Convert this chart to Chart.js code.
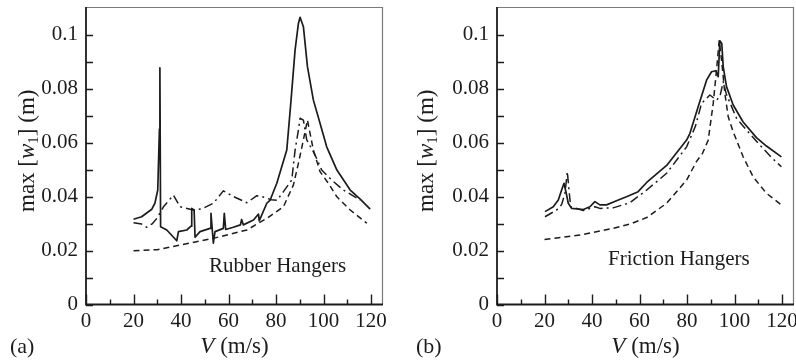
<!DOCTYPE html>
<html>
<head>
<meta charset="utf-8">
<script src="https://cdn.jsdelivr.net/npm/chart.js@4/dist/chart.umd.min.js"></script>
<style>
  html, body { margin: 0; padding: 0; background: #ffffff; }
  #wrap { position: relative; width: 796px; height: 362px; overflow: hidden; }
  #wrap canvas { position: absolute; top: 0; }
</style>
</head>
<body>
<div id="wrap">
  <canvas id="panelA" width="398" height="362" style="left:0px"></canvas>
  <canvas id="panelB" width="398" height="362" style="left:398px"></canvas>
</div>
<script>
// Axis tick values shown with labels
const xTickLabels = [0, 20, 40, 60, 80, 100, 120];
const yTickLabels = [0, 0.02, 0.04, 0.06, 0.08, 0.1];

// (a) Rubber hangers: max response vs train speed V (m/s)
const rubberSolidV = [20, 23.4, 27.7, 29, 30.2, 30.9, 31.1, 31.4, 34, 38.2, 38.9, 42.4, 44.2, 44.5, 45.5, 45.9, 48, 52.2, 52.6, 53.6, 54.3, 57.8, 58.2, 58.8, 62, 65, 65.5, 66.2, 70.5, 72.6, 72.9, 76.1, 77.5, 80.3, 84.5, 86.3, 88, 89.4, 90.1, 91.5, 93.2, 95.7, 98.5, 101.3, 105.6, 111.2, 115.4, 119.6];
const rubberSolidW = [0.0316, 0.0325, 0.0353, 0.0375, 0.0424, 0.065, 0.0877, 0.0288, 0.0276, 0.0236, 0.027, 0.0276, 0.029, 0.0356, 0.035, 0.0249, 0.027, 0.0282, 0.0338, 0.0227, 0.027, 0.0282, 0.0338, 0.0278, 0.0286, 0.0295, 0.0315, 0.0295, 0.0313, 0.0335, 0.031, 0.0375, 0.0387, 0.0449, 0.0572, 0.0757, 0.0943, 0.1041, 0.1064, 0.1029, 0.0881, 0.0757, 0.0671, 0.0584, 0.0498, 0.0424, 0.039, 0.0353];

const rubberDashDotV = [20, 23.4, 25.5, 28, 29.8, 32.6, 36.8, 39.6, 45.2, 49, 53.6, 55, 57.8, 62, 67.7, 71.9, 74, 78, 80.4, 83.1, 86.6, 88, 89.4, 90.1, 91.5, 92.9, 96.4, 99.2, 103.4, 108.3, 115.4];
const rubberDashDotW = [0.0303, 0.0298, 0.0286, 0.030, 0.0319, 0.0362, 0.0405, 0.0362, 0.035, 0.0355, 0.0375, 0.039, 0.0421, 0.040, 0.0377, 0.0403, 0.040, 0.0388, 0.0386, 0.0418, 0.0461, 0.0572, 0.0646, 0.069, 0.0683, 0.061, 0.0554, 0.0498, 0.0461, 0.0424, 0.0387];

const rubberDashedV = [20, 30, 39.6, 53.6, 67.7, 76.1, 83.1, 87.3, 89.4, 91.5, 93.2, 94.3, 95.7, 98.5, 102, 105.6, 111.2, 118.2];
const rubberDashedW = [0.0199, 0.0203, 0.022, 0.0245, 0.0276, 0.0319, 0.0362, 0.0443, 0.0523, 0.061, 0.0683, 0.0634, 0.0572, 0.0492, 0.0449, 0.0399, 0.035, 0.0301];

// (b) Friction hangers
const frictionSolidV = [20.2, 23.7, 25.8, 27.2, 28.2, 29, 30, 31.4, 36.3, 39.1, 41.2, 43.3, 46.1, 50.3, 54.5, 59.4, 63, 71.4, 79.8, 81.2, 84.7, 88.2, 90.3, 92.1, 93.1, 93.8, 94.6, 95.2, 96.6, 99.4, 103.6, 109.2, 113.4, 119.7];
const frictionSolidW = [0.0344, 0.0362, 0.0387, 0.0424, 0.0449, 0.0418, 0.0375, 0.0356, 0.0352, 0.0362, 0.0381, 0.0369, 0.0369, 0.0384, 0.0399, 0.0418, 0.0452, 0.0515, 0.0609, 0.0634, 0.0733, 0.0831, 0.0862, 0.0866, 0.0844, 0.0977, 0.0967, 0.0881, 0.0807, 0.0739, 0.0676, 0.0618, 0.0587, 0.0547];

const frictionDashDotV = [20.2, 25.1, 27.2, 28.6, 29.6, 30.3, 31, 36.3, 41.2, 43.3, 48.9, 55.9, 63, 71.4, 79.8, 83.5, 86.1, 89.6, 92.4, 93.8, 95.2, 96.5, 100.8, 105, 110.6, 115.5, 119.7];
const frictionDashDotW = [0.0325, 0.035, 0.037, 0.0412, 0.0492, 0.0424, 0.0362, 0.0348, 0.0362, 0.0356, 0.0358, 0.0377, 0.0424, 0.0486, 0.0584, 0.066, 0.0745, 0.0776, 0.0757, 0.077, 0.0825, 0.078, 0.069, 0.0646, 0.0591, 0.0545, 0.051];

const frictionDashedV = [20, 34.9, 48.9, 56, 63, 71.4, 79.8, 84, 86.5, 88.9, 91, 92.4, 93.5, 94.5, 95.9, 97.3, 99.4, 103.6, 107.8, 113.4, 119.7];
const frictionDashedW = [0.0241, 0.0257, 0.0282, 0.0298, 0.0322, 0.0375, 0.0461, 0.053, 0.056, 0.0609, 0.0745, 0.0869, 0.0977, 0.0906, 0.0782, 0.0696, 0.064, 0.0547, 0.0473, 0.0412, 0.0369];

const SERIF = "'Liberation Serif', 'Times New Roman', 'DejaVu Serif', serif";
const INK = '#1c1c1c';

Chart.defaults.font.family = SERIF;
Chart.defaults.color = INK;

function toPoints(v, w) {
  return v.map((x, i) => ({ x: x, y: w[i] }));
}

// tick positions every 10 m/s and every 0.01 m (labels only on the listed values)
function stepTicks(from, to, step) {
  const out = [];
  const n = Math.round((to - from) / step);
  for (let i = 0; i <= n; i++) out.push({ value: +(from + i * step).toFixed(6) });
  return out;
}

// Frame, inward ticks, axis titles, panel tag and annotation
const decorations = {
  id: 'decorations',
  afterDraw(chart, args, o) {
    const { ctx, chartArea: a, scales: { x, y } } = chart;
    ctx.save();
    // light top and right frame
    ctx.strokeStyle = '#7a7a7a';
    ctx.lineWidth = 1.2;
    ctx.beginPath();
    ctx.moveTo(a.left, a.top + 0.5);
    ctx.lineTo(a.right - 0.5, a.top + 0.5);
    ctx.lineTo(a.right - 0.5, a.bottom);
    ctx.stroke();
    // dark left and bottom axes
    ctx.strokeStyle = INK;
    ctx.lineWidth = 1.8;
    ctx.beginPath();
    ctx.moveTo(a.left, a.top);
    ctx.lineTo(a.left, a.bottom);
    ctx.lineTo(a.right, a.bottom);
    ctx.stroke();
    // inward ticks
    ctx.lineWidth = 1.4;
    ctx.beginPath();
    x.ticks.forEach(t => {
      const px = Math.round(x.getPixelForValue(t.value)) + 0.5;
      const len = (Math.round(t.value) % 20 === 0) ? 10 : 5;
      ctx.moveTo(px, a.bottom);
      ctx.lineTo(px, a.bottom - len);
    });
    y.ticks.forEach(t => {
      const py = Math.round(y.getPixelForValue(t.value)) + 0.5;
      ctx.moveTo(a.left, py);
      ctx.lineTo(a.left + 7, py);
    });
    ctx.stroke();

    ctx.fillStyle = INK;
    ctx.textBaseline = 'middle';
    const size = 23;
    const normal = size + 'px ' + SERIF;
    const italic = 'italic ' + size + 'px ' + SERIF;
    const sub = '15px ' + SERIF;

    // y-axis title: max [w1] (m)
    const segs = [
      { t: 'max [', f: normal, dy: 0 },
      { t: 'w', f: italic, dy: 0 },
      { t: '1', f: sub, dy: 6 },
      { t: '] (m)', f: normal, dy: 0 }
    ];
    let total = 0;
    segs.forEach(s => { ctx.font = s.f; s.w = ctx.measureText(s.t).width; total += s.w; });
    ctx.save();
    ctx.translate(o.yTitleX, (a.top + a.bottom) / 2 - 5);
    ctx.rotate(-Math.PI / 2);
    ctx.textAlign = 'left';
    let cx = -total / 2;
    segs.forEach(s => { ctx.font = s.f; ctx.fillText(s.t, cx, s.dy); cx += s.w; });
    ctx.restore();

    // x-axis title: V (m/s)
    const xs = [ { t: 'V', f: italic }, { t: ' (m/s)', f: normal } ];
    total = 0;
    xs.forEach(s => { ctx.font = s.f; s.w = ctx.measureText(s.t).width; total += s.w; });
    ctx.textAlign = 'left';
    cx = (a.left + a.right) / 2 - total / 2;
    xs.forEach(s => { ctx.font = s.f; ctx.fillText(s.t, cx, 347); cx += s.w; });

    // panel tag
    ctx.font = '22px ' + SERIF;
    ctx.fillText(o.tag, o.tagX, 347);

    // annotation placed in data coordinates
    ctx.font = '21px ' + SERIF;
    ctx.fillText(o.note, x.getPixelForValue(o.noteV), y.getPixelForValue(o.noteW));
    ctx.restore();
  }
};

function lineSet(v, w, dash, width) {
  return {
    data: toPoints(v, w),
    borderColor: INK,
    borderWidth: width,
    borderDash: dash,
    pointRadius: 0,
    tension: 0,
    fill: false,
    borderJoinStyle: 'round',
    borderCapStyle: 'butt'
  };
}

function makePanel(id, series, yWidth, rightPad, deco) {
  return new Chart(document.getElementById(id), {
    type: 'line',
    data: {
      datasets: [
        lineSet(series.dashedV, series.dashedW, [6, 4], 1.5),
        lineSet(series.dashDotV, series.dashDotW, [9, 4, 2, 4], 1.5),
        lineSet(series.solidV, series.solidW, [], 1.7)
      ]
    },
    options: {
      responsive: false,
      animation: false,
      devicePixelRatio: 1,
      layout: { padding: { left: 0, right: rightPad, top: 7, bottom: 0 } },
      plugins: {
        legend: { display: false },
        tooltip: { enabled: false },
        decorations: deco
      },
      scales: {
        x: {
          type: 'linear',
          min: 0,
          max: 125,
          grid: { display: false, drawTicks: false },
          border: { display: false },
          ticks: {
            autoSkip: false,
            maxRotation: 0,
            padding: 4,
            color: INK,
            font: { size: 21, family: SERIF },
            callback: v => xTickLabels.includes(Math.round(v)) ? String(Math.round(v)) : ''
          },
          afterBuildTicks: s => { s.ticks = stepTicks(0, 120, 10); },
          afterFit: s => { s.height = 57.5; s.paddingLeft = 0; s.paddingRight = 0; }
        },
        y: {
          type: 'linear',
          min: 0,
          max: 0.1102,
          grid: { display: false, drawTicks: false },
          border: { display: false },
          ticks: {
            autoSkip: false,
            padding: 8,
            color: INK,
            font: { size: 21, family: SERIF },
            callback: v => {
              const k = Math.round(v * 100);
              const hit = yTickLabels.find(t => Math.round(t * 100) === k);
              if (hit === undefined) return '';
              return hit === 0 ? '0' : String(hit);
            }
          },
          afterBuildTicks: s => { s.ticks = stepTicks(0, 0.1, 0.01); },
          afterFit: s => { s.width = yWidth; s.paddingTop = 0; s.paddingBottom = 0; }
        }
      }
    },
    plugins: [decorations]
  });
}

makePanel('panelA', {
  solidV: rubberSolidV, solidW: rubberSolidW,
  dashDotV: rubberDashDotV, dashDotW: rubberDashDotW,
  dashedV: rubberDashedV, dashedW: rubberDashedW
}, 86, 15, { yTitleX: 28, tag: '(a)', tagX: 10, note: 'Rubber Hangers', noteV: 51.8, noteW: 0.0139 });

makePanel('panelB', {
  solidV: frictionSolidV, solidW: frictionSolidW,
  dashDotV: frictionDashDotV, dashDotW: frictionDashDotW,
  dashedV: frictionDashedV, dashedW: frictionDashedW
}, 99, 2, { yTitleX: 29, tag: '(b)', tagX: 18, note: 'Friction Hangers', noteV: 46.7, noteW: 0.0165 });
</script>
</body>
</html>
